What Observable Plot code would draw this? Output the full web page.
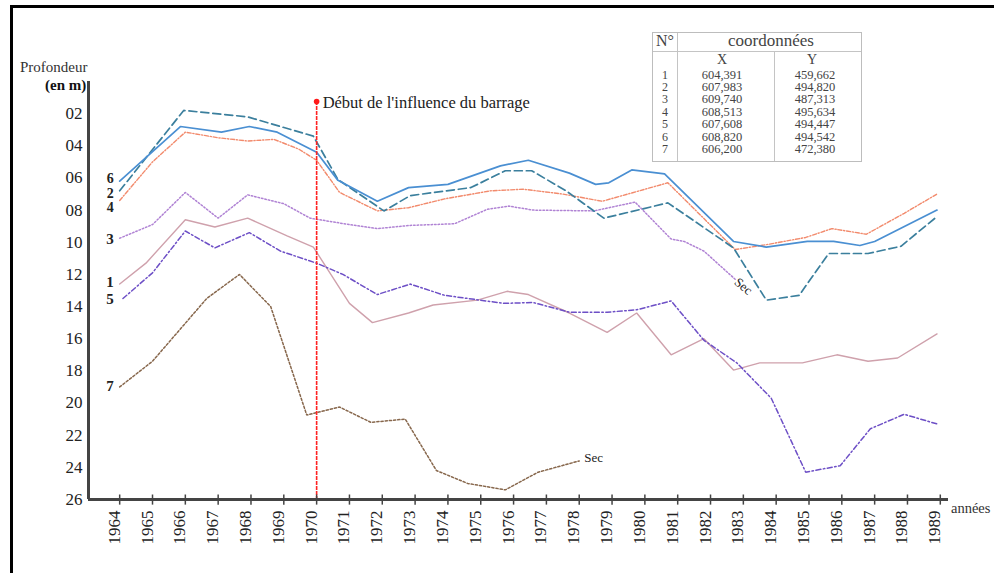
<!DOCTYPE html>
<html>
<head>
<meta charset="utf-8">
<script src="https://cdn.jsdelivr.net/npm/d3@7"></script>
<script src="https://cdn.jsdelivr.net/npm/@observablehq/plot@0.6"></script>
<style>
  html, body { margin: 0; padding: 0; background: #fff; }
  #wrap { position: relative; width: 994px; height: 573px; overflow: hidden; background: #fff; font-family: "Liberation Serif", "DejaVu Serif", serif; color: #222; }
  #frame { position: absolute; left: 10px; top: 5px; right: -20px; bottom: -20px; border-left: 3px solid #000; border-top: 3px solid #000; }
  #chart { position: absolute; left: 0; top: 0; }
  .abs { position: absolute; white-space: nowrap; }
  #legend { position: absolute; left: 652px; top: 32px; width: 210px; height: 130px; box-sizing: border-box; border: 1px solid #bdbdbd; background: #fff; color: #444; }
  #legend .ln { position: absolute; background: #c4c4c4; }
  #legend .t { position: absolute; text-align: center; white-space: nowrap; }
</style>
</head>
<body>
<div id="wrap">
  <div id="frame"></div>
  <div id="chart"></div>
  <div class="abs" style="left:20px;top:58px;font-size:15px;line-height:18px;color:#333">Profondeur</div>
  <div class="abs" style="left:45px;top:76px;font-size:15px;line-height:18px;color:#111;font-weight:600">(en m)</div>
  <div class="abs" style="left:951px;top:499px;font-size:14.5px;line-height:18px;color:#333">années</div>
  <div id="legend"></div>
</div>
<script>
// ---------- data ----------
const years = d3.range(1964, 1990);
const depthTicks = d3.range(2, 27, 2);
const influenceYear = 1970;
const influenceLabel = "Début de l'influence du barrage";

// Piezometer 6 (solid blue)
const s6Years = [1964, 1965.85, 1967.1, 1967.95, 1968.8, 1970, 1970.65, 1971.85, 1972.8, 1974.0, 1975.6, 1976.45, 1977.7, 1978.5, 1978.9, 1979.6, 1980.6, 1982.7, 1983.7, 1984.95, 1985.75, 1986.55, 1987.0, 1988.9];
const s6Depth = [6.2, 2.8, 3.15, 2.8, 3.15, 4.4, 6.15, 7.45, 6.6, 6.4, 5.25, 4.9, 5.7, 6.4, 6.3, 5.5, 5.75, 9.95, 10.3, 9.95, 9.95, 10.2, 9.95, 8.0];
// Piezometer 2 (dashed teal)
const s2Years = [1964, 1965.95, 1967.9, 1968.65, 1969.9, 1970.65, 1972.05, 1972.85, 1974.7, 1975.75, 1976.55, 1977.6, 1978.75, 1980.7, 1982.7, 1983.7, 1984.7, 1985.6, 1986.8, 1987.8, 1988.9];
const s2Depth = [6.8, 1.8, 2.2, 2.65, 3.4, 6.1, 8.05, 7.1, 6.6, 5.55, 5.55, 6.8, 8.5, 7.55, 10.35, 13.6, 13.3, 10.7, 10.7, 10.25, 8.4];
// Piezometer 4 (orange dash-dot)
const s4Years = [1964, 1965, 1966, 1967, 1967.9, 1968.7, 1969.45, 1970, 1970.7, 1971.85, 1972.8, 1973.9, 1975.3, 1976.3, 1977.5, 1978.7, 1980.7, 1982.75, 1983.7, 1984.9, 1985.7, 1986.75, 1987.9, 1988.9];
const s4Depth = [7.4, 5.0, 3.15, 3.5, 3.7, 3.6, 4.2, 4.9, 6.9, 8.05, 7.85, 7.3, 6.8, 6.7, 7.0, 7.45, 6.3, 10.45, 10.15, 9.7, 9.15, 9.5, 8.2, 7.0];
// Piezometer 3 (purple dotted)
const s3Years = [1964, 1965, 1966, 1967, 1967.9, 1969, 1969.8, 1971, 1971.85, 1972.85, 1974.2, 1975.2, 1975.85, 1976.6, 1978.45, 1979.7, 1980.8, 1981.2, 1981.8, 1982.75];
const s3Depth = [9.75, 8.9, 6.9, 8.5, 7.05, 7.6, 8.5, 8.9, 9.15, 8.95, 8.85, 7.95, 7.75, 8.0, 8.05, 7.5, 9.8, 9.95, 10.55, 12.3];
// Piezometer 1 (pink solid)
const s1Years = [1964, 1964.8, 1966, 1966.9, 1967.9, 1969.1, 1969.9, 1971.0, 1971.7, 1972.8, 1973.55, 1974.9, 1975.8, 1976.45, 1977.7, 1978.85, 1979.75, 1980.8, 1981.8, 1982.7, 1983.5, 1984.8, 1985.85, 1986.8, 1987.7, 1988.9];
const s1Depth = [12.6, 11.3, 8.6, 9.05, 8.5, 9.6, 10.3, 13.8, 15.0, 14.4, 13.9, 13.6, 13.05, 13.25, 14.4, 15.6, 14.4, 17.0, 16.0, 17.95, 17.5, 17.5, 17.0, 17.4, 17.2, 15.7];
// Piezometer 5 (violet dash-dot)
const s5Years = [1964.1, 1965, 1966, 1966.9, 1967.95, 1968.9, 1970, 1970.8, 1971.85, 1972.85, 1973.9, 1975.7, 1976.6, 1977.7, 1978.85, 1979.75, 1980.8, 1981.8, 1982.8, 1983.85, 1984.9, 1985.95, 1986.87, 1987.9, 1988.9];
const s5Depth = [13.5, 11.9, 9.3, 10.35, 9.4, 10.55, 11.3, 12.0, 13.25, 12.6, 13.3, 13.8, 13.75, 14.35, 14.35, 14.2, 13.65, 16.1, 17.5, 19.7, 24.3, 23.9, 21.6, 20.7, 21.3];
// Piezometer 7 (brown dotted)
const s7Years = [1964, 1965, 1966.65, 1967.65, 1968.6, 1969.7, 1970.7, 1971.65, 1972.7, 1973.65, 1974.6, 1975.75, 1976.75, 1978.0];
const s7Depth = [19.0, 17.4, 13.5, 12.0, 14.0, 20.75, 20.25, 21.2, 21.0, 24.2, 25.0, 25.4, 24.3, 23.6];

// left-hand series labels
const labelNames  = ["6", "2", "4", "3", "1", "5", "7"];
const labelDepths = [6.05, 6.95, 7.85, 9.8, 12.5, 13.55, 18.95];
const labelSizes  = [14, 14, 14, 15, 15, 15, 15];

// legend table
const legendIds = ["1", "2", "3", "4", "5", "6", "7"];
const legendX = ["604,391", "607,983", "609,740", "608,513", "607,608", "608,820", "606,200"];
const legendY = ["459,662", "494,820", "487,313", "495,634", "494,447", "494,542", "472,380"];

// ---------- build ----------
const toRows = (xs, ds) => xs.map((x, i) => ({x, d: ds[i]}));
const series = [
  {rows: toRows(s1Years, s1Depth), stroke: "#cfa1ac", width: 1.4, dash: null},
  {rows: toRows(s7Years, s7Depth), stroke: "#87674c", width: 1.5, dash: "2.2,2"},
  {rows: toRows(s5Years, s5Depth), stroke: "#6d4fc6", width: 1.5, dash: "5,2.5,1.5,2.5"},
  {rows: toRows(s3Years, s3Depth), stroke: "#b083d4", width: 1.5, dash: "1.5,2"},
  {rows: toRows(s4Years, s4Depth), stroke: "#f28a6c", width: 1.4, dash: "4,1.8,1.2,1.8"},
  {rows: toRows(s2Years, s2Depth), stroke: "#3b7f9d", width: 1.7, dash: "8,4"},
  {rows: toRows(s6Years, s6Depth), stroke: "#4a8fd2", width: 1.7, dash: null}
];

const xMin = 1963.05;
const serif = "'Liberation Serif', 'DejaVu Serif', serif";

const chart = Plot.plot({
  width: 994,
  height: 573,
  marginLeft: 88,
  marginRight: 46,
  marginTop: 81,
  marginBottom: 74,
  x: {domain: [xMin, 1989.25], axis: null},
  y: {domain: [0, 26], reverse: true, axis: null},
  style: {fontFamily: serif, background: "transparent", color: "#222"},
  marks: [
    // series lines
    ...series.map(s => Plot.line(s.rows, {x: "x", y: "d", stroke: s.stroke, strokeWidth: s.width, strokeDasharray: s.dash, strokeLinejoin: "miter"})),
    // influence marker
    Plot.ruleX([influenceYear], {y1: 1.25, y2: 26, stroke: "#ff2222", strokeWidth: 1.6, strokeDasharray: "4,1"}),
    Plot.dot([influenceYear], {x: d => d, y: 1.25, r: 2.8, fill: "#ff1a1a", stroke: "none"}),
    Plot.text([influenceLabel], {x: influenceYear, y: 1.25, dx: 6, dy: 1, textAnchor: "start", fontSize: 16.5, fill: "#222", text: d => d}),
    // axes
    Plot.ruleY([26], {stroke: "#444", strokeWidth: 3}),
    Plot.ruleX([xMin], {stroke: "#444", strokeWidth: 3}),
    Plot.ruleX(years, {x: d => d, y1: 25.72, y2: 26.35, stroke: "#444", strokeWidth: 1.5}),
    Plot.text(years, {x: d => d, frameAnchor: "bottom", dy: 11, rotate: -90, textAnchor: "end", fontSize: 17, fill: "#222", text: d => String(d)}),
    Plot.text(depthTicks, {y: d => d, frameAnchor: "left", dx: -6, textAnchor: "end", fontSize: 17, fill: "#222", text: d => String(d).padStart(2, "0")}),
    // series labels
    ...labelNames.map((name, i) => Plot.text([name], {x: () => 1964, y: () => labelDepths[i], dx: -6, textAnchor: "end", fontSize: labelSizes[i], fontWeight: 600, fill: "#222", text: d => d})),
    // "Sec" notes
    Plot.text(["Sec"], {x: () => s7Years[s7Years.length - 1], y: () => s7Depth[s7Depth.length - 1], dx: 5, dy: -3, textAnchor: "start", fontSize: 13, fill: "#222", text: d => d}),
    Plot.text(["Sec"], {x: () => s3Years[s3Years.length - 1], y: () => s3Depth[s3Depth.length - 1], dx: 1, dy: 1, rotate: 40, textAnchor: "start", fontSize: 13, fill: "#222", text: d => d})
  ]
});
document.getElementById("chart").appendChild(chart);

// legend table
const lg = document.getElementById("legend");
function line(l, t, w, h) { const e = document.createElement("div"); e.className = "ln"; Object.assign(e.style, {left: l + "px", top: t + "px", width: w + "px", height: h + "px"}); lg.appendChild(e); }
function txt(s, cx, cy, size, w, lh) {
  const e = document.createElement("div"); e.className = "t"; e.textContent = s;
  lh = lh || size * 1.1;
  Object.assign(e.style, {left: (cx - w / 2) + "px", top: (cy - lh / 2) + "px", width: w + "px", fontSize: size + "px", lineHeight: lh + "px"});
  lg.appendChild(e);
}
line(0, 18, 208, 1);
line(24, 0, 1, 128);
line(121, 18, 1, 110);
txt("N°", 12, 8, 16, 24);
txt("coordonnées", 118, 8, 17, 180);
txt("X", 69, 26, 14, 40, 13);
txt("Y", 159, 26, 14, 40, 13);
legendIds.forEach((id, i) => {
  const cy = 41.5 + i * 12.45;
  txt(id, 12, cy, 12, 20, 12);
  txt(legendX[i], 69, cy, 12.5, 80, 12);
  txt(legendY[i], 162, cy, 12.5, 80, 12);
});
</script>
</body>
</html>
